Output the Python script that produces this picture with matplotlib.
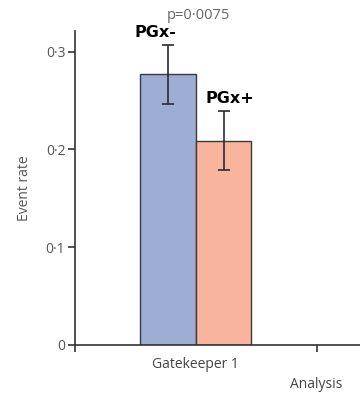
import matplotlib
matplotlib.use("Agg")
import matplotlib.pyplot as plt

plt.rcParams["font.family"] = ["Open Sans", "DejaVu Sans"]

groups = ["PGx-", "PGx+"]
rates = [0.277, 0.209]
err_low = [0.031, 0.030]
err_high = [0.030, 0.030]
colors = ["#9dadd3", "#f8b49c"]
yticks = [0, 0.1, 0.2, 0.3]
ytick_labels = ["0", "0·1", "0·2", "0·3"]
category = "Gatekeeper 1"
p_text = "p=0·0075"

fig = plt.figure(figsize=(3.6, 3.98), dpi=100)
ax = fig.add_axes([75/360, 1-345/398, 1-75/360, (345-31)/398])

w = 0.46
xs = [-w/2, w/2]
ax.bar(xs, rates, width=w, color=colors, edgecolor="#3a3a3a", linewidth=1.0, zorder=2)
ax.errorbar(xs, rates, yerr=[err_low, err_high], fmt="none", ecolor="#2a2a3a",
            elinewidth=1.2, capsize=4, capthick=1.2, zorder=3)

ax.set_xlim(-0.99, 1.36)
ax.set_ylim(0, 0.321)
for s in ["top", "right"]:
    ax.spines[s].set_visible(False)
for s in ["left", "bottom"]:
    ax.spines[s].set_color("#333333")
    ax.spines[s].set_linewidth(1.2)

ax.set_yticks(yticks)
ax.set_yticklabels(ytick_labels)
ax.set_xticks([-1, 1])
ax.set_xticklabels(["", ""])
ax.tick_params(axis="both", colors="#333333", labelcolor="#555555", labelsize=10, width=1.2, length=5, pad=2)
ax.set_ylabel("Event rate", color="#555555", fontsize=10, labelpad=10)

ax.text(0.0, -0.037, category, ha="center", va="top", fontsize=10, color="#444444",
        transform=ax.get_xaxis_transform())
ax.text(1.0, -0.102, "Analysis", ha="center", va="top", fontsize=10, color="#444444",
        transform=ax.get_xaxis_transform())

bold = dict(fontsize=11.5, fontweight="bold", color="black", family="DejaVu Sans")
ax.text(xs[0] - 0.1, rates[0] + err_high[0] + 0.005, groups[0], ha="center", va="bottom", **bold)
ax.text(xs[1] + 0.05, rates[1] + err_high[1] + 0.005, groups[1], ha="center", va="bottom", **bold)
ax.text(0.02, 0.329, p_text, ha="center", va="bottom", fontsize=10.5, color="#666666", clip_on=False)

fig.savefig("out.png", dpi=100)
